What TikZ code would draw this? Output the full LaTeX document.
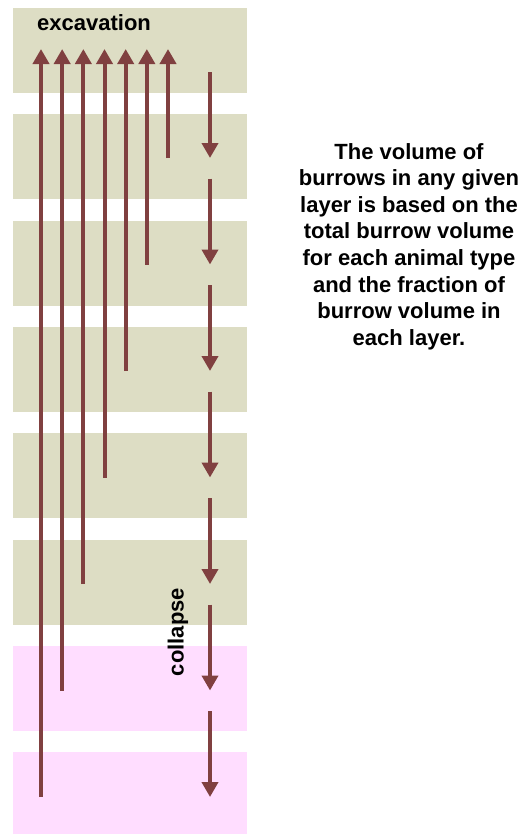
\documentclass[tikz,border=0pt]{standalone}
\usepackage{fontspec}
\setmainfont{Liberation Sans}
\usetikzlibrary{arrows.meta}
\definecolor{bandgreen}{RGB}{221,221,196}
\definecolor{bandpink}{RGB}{255,221,255}
\definecolor{arrowred}{RGB}{128,64,64}
\tikzset{
  greenband/.style={fill=bandgreen, draw=none},
  pinkband/.style={fill=bandpink, draw=none},
  burrow/.style={draw=arrowred, line width=4pt, -{Triangle[length=15pt,width=16pt]}},
  lbl/.style={inner sep=0pt, font=\bfseries\fontsize{22}{26.6}\selectfont, text=black}
}
\begin{document}
\begin{tikzpicture}[x=1pt,y=-1pt]
\useasboundingbox (0,0) rectangle (524,835);
% layers
\foreach \k in {0,...,5} {
  \fill[greenband] (13,{8+106.3*\k}) rectangle (247,{93+106.3*\k});
}
\fill[pinkband] (13,646) rectangle (247,731);
\fill[pinkband] (13,752) rectangle (247,834);
% excavation arrows (upward)
\foreach \i in {0,...,6} {
  \coordinate (ub\i) at ({41+21.17*\i},{797-106.5*\i});
  \coordinate (ut\i) at ({41+21.17*\i},49);
  \draw[burrow] (ub\i) -- (ut\i);
}
% collapse arrows (downward)
\foreach \k in {0,...,6} {
  \coordinate (ds\k) at (210,{72+106.5*\k});
  \coordinate (de\k) at (210,{158+106.5*\k});
  \draw[burrow] (ds\k) -- (de\k);
}
\node[lbl, anchor=west] (exc) at (37,23) {excavation};
\node[lbl, rotate=90] (col) at (178,632) {collapse};
\node[lbl, align=center] (desc) at (409,246.5) {The volume of\\burrows in any given\\layer is based on the\\total burrow volume\\for each animal type\\and the fraction of\\burrow volume in\\each layer.};
\end{tikzpicture}
\end{document}
